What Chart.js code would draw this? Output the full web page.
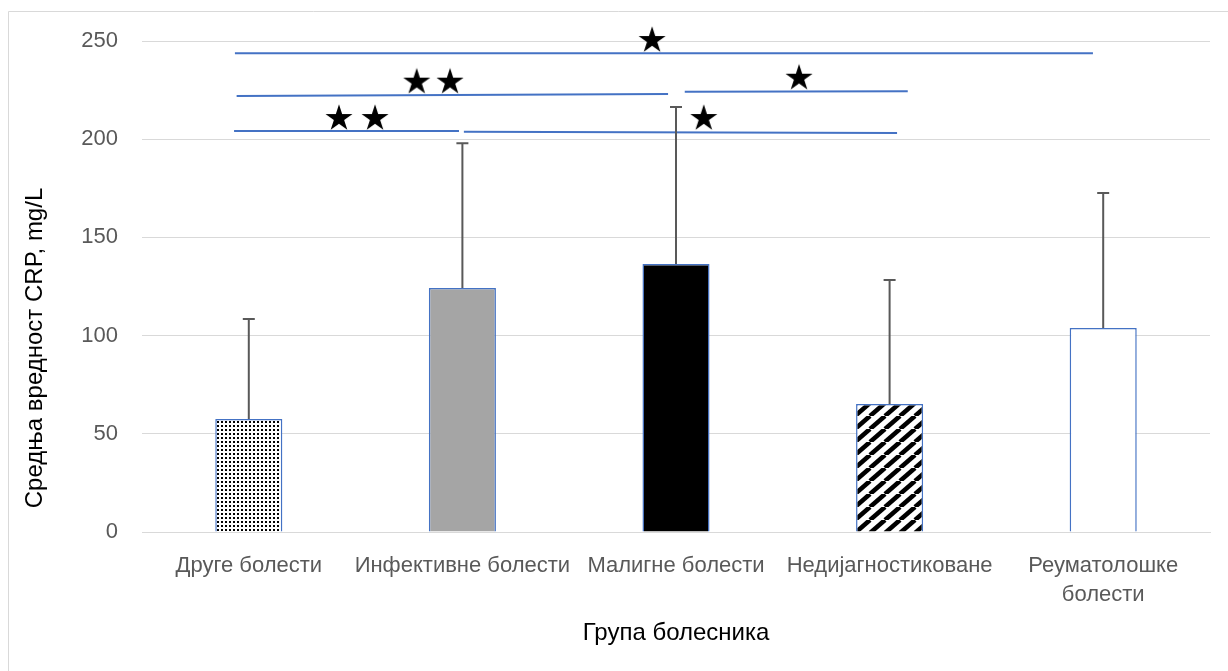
<!DOCTYPE html>
<html><head><meta charset="utf-8">
<script src="https://cdn.jsdelivr.net/npm/chart.js@4/dist/chart.umd.min.js"></script>
<style>html,body{margin:0;padding:0;background:#fff}#w{width:1228px;height:671px;position:relative}</style>
</head><body><div id="w"><canvas id="c" width="1228" height="671"></canvas></div>
<script>
// ---- data ----
const categories = ['Друге болести', 'Инфективне болести', 'Малигне болести', 'Недијагностиковане', ['Реуматолошке', 'болести']];
const meanCRP = [57.5, 124.2, 136.5, 65.2, 103.9];
const sdCRP = [51.0, 73.8, 79.9, 63.1, 68.7];
const yTicks = [0, 50, 100, 150, 200, 250];
const yTitle = 'Средња вредност CRP, mg/L';
const xTitle = 'Група болесника';
// significance brackets: [xStart, yStart, xEnd, yEnd] in category-index units
const sigLineA = [-0.065, 243.7, 3.952, 243.7];
const sigLineB1 = [-0.057, 222.0, 1.963, 223.0];
const sigLineB2 = [2.041, 224.2, 3.085, 224.4];
const sigLineC1 = [-0.069, 204.2, 0.984, 204.2];
const sigLineC2 = [1.007, 203.8, 3.035, 203.2];
const starX = [1.888, 0.786, 0.942, 0.422, 0.591, 2.576, 2.130];
const starY = [251.0, 229.8, 229.8, 211.3, 211.3, 231.8, 211.3];

const FONT = "'Liberation Sans', Arial, sans-serif";

// ---- fills ----
function dotPattern() {
  const t = document.createElement('canvas'); t.width = 4; t.height = 4;
  const g = t.getContext('2d');
  g.fillStyle = '#fff'; g.fillRect(0, 0, 4, 4);
  g.fillStyle = '#000'; g.fillRect(1, 1, 2, 2);
  return g.createPattern(t, 'repeat');
}
function stripePattern() {
  const w = 15, h = 13;
  const t = document.createElement('canvas'); t.width = w; t.height = h;
  const g = t.getContext('2d');
  g.fillStyle = '#fff'; g.fillRect(0, 0, w, h);
  g.strokeStyle = '#000'; g.lineWidth = 4.6;
  for (const dx of [-w, 0, w]) {
    g.beginPath(); g.moveTo(dx, h); g.lineTo(dx + w, 0); g.stroke();
  }
  return g.createPattern(t, 'repeat');
}
function starImage() {
  const s = 30, R = 14.2, r = R * 0.38;
  const t = document.createElement('canvas'); t.width = s; t.height = s;
  const g = t.getContext('2d');
  const cx = s / 2, cy = s / 2 + R * 0.0955;
  g.fillStyle = '#000'; g.beginPath();
  for (let i = 0; i < 10; i++) {
    const rad = i % 2 ? r : R;
    const a = -Math.PI / 2 + i * Math.PI / 5;
    const px = cx + rad * Math.cos(a), py = cy + rad * Math.sin(a);
    i ? g.lineTo(px, py) : g.moveTo(px, py);
  }
  g.closePath(); g.fill();
  return t;
}
const fills = [dotPattern(), '#A5A5A5', '#000000', stripePattern(), '#FFFFFF'];

function seg(a) { return [{x: a[0], y: a[1]}, {x: a[2], y: a[3]}]; }
const sigSegments = [sigLineA, sigLineB1, sigLineB2, sigLineC1, sigLineC2];

const errorBars = {
  id: 'errorBars',
  afterDatasetsDraw(chart) {
    const meta = chart.getDatasetMeta(0);
    const y = chart.scales.y, ctx = chart.ctx;
    ctx.save();
    ctx.strokeStyle = '#595959'; ctx.lineWidth = 2;
    meta.data.forEach((bar, i) => {
      const yt = y.getPixelForValue(meanCRP[i] + sdCRP[i]);
      const yb = y.getPixelForValue(meanCRP[i]);
      ctx.beginPath();
      ctx.moveTo(bar.x, yb); ctx.lineTo(bar.x, yt);
      ctx.moveTo(bar.x - 6, yt); ctx.lineTo(bar.x + 6, yt);
      ctx.stroke();
    });
    ctx.restore();
  }
};
const frame = {
  id: 'frame',
  beforeDraw(chart) {
    const ctx = chart.ctx;
    ctx.save();
    ctx.fillStyle = '#fff'; ctx.fillRect(0, 0, chart.width, chart.height);
    ctx.strokeStyle = '#D9D9D9'; ctx.lineWidth = 1;
    ctx.beginPath(); ctx.moveTo(8.5, chart.height); ctx.lineTo(8.5, 11.5); ctx.lineTo(chart.width, 11.5); ctx.stroke();
    ctx.restore();
  },
  afterDraw(chart) {
    // vertical axis title, centred on the whole chart frame as in the original
    const ctx = chart.ctx;
    ctx.save();
    ctx.translate(35, (11 + chart.height) / 2 + 7);
    ctx.rotate(-Math.PI / 2);
    ctx.font = "24px " + FONT;
    ctx.fillStyle = '#000';
    ctx.textAlign = 'center'; ctx.textBaseline = 'middle';
    ctx.fillText(yTitle, 0, 0);
    ctx.restore();
  }
};

new Chart(document.getElementById('c'), {
  type: 'bar',
  data: {
    labels: categories,
    datasets: [
      {type: 'bar', data: meanCRP, backgroundColor: fills, borderColor: '#4472C4', borderWidth: 1.5,
       barPercentage: 0.314, categoryPercentage: 1, grouped: false, xAxisID: 'x', yAxisID: 'y', order: 3},
      ...sigSegments.map(s => ({type: 'line', data: seg(s), xAxisID: 'xl', yAxisID: 'y',
        borderColor: '#4472C4', borderWidth: 2, pointRadius: 0, fill: false, clip: false, order: 2})),
      {type: 'scatter', data: starX.map((x, i) => ({x, y: starY[i]})), xAxisID: 'xl', yAxisID: 'y',
       pointStyle: starImage(), clip: false, order: 1}
    ]
  },
  options: {
    responsive: false, animation: false,
    layout: {padding: {left: 0, right: 18, top: 41, bottom: 0}},
    plugins: {legend: {display: false}, tooltip: {enabled: false}},
    scales: {
      x: {
        type: 'category', offset: true,
        grid: {display: false, drawTicks: false},
        border: {display: true, color: '#D9D9D9'},
        ticks: {color: '#595959', font: {family: FONT, size: 22, lineHeight: 1.32}, padding: 19, maxRotation: 0, autoSkip: false},
        title: {display: true, text: xTitle, color: '#000', font: {family: FONT, size: 24}, padding: {top: 0, bottom: 23.6}},
        afterFit(s) { s.height = 139; }
      },
      xl: {type: 'linear', display: false, min: -0.5, max: 4.5, offset: false},
      y: {
        min: 0, max: 250,
        afterBuildTicks(s) { s.ticks = yTicks.map(v => ({value: v})); },
        ticks: {color: '#595959', padding: 24, font: {family: FONT, size: 22}},
        grid: {color: '#D9D9D9', drawTicks: false, lineWidth: 1},
        border: {display: false},
        title: {display: false},
        afterFit(s) { s.width = 142; }
      }
    }
  },
  plugins: [frame, errorBars]
});
</script></body></html>
